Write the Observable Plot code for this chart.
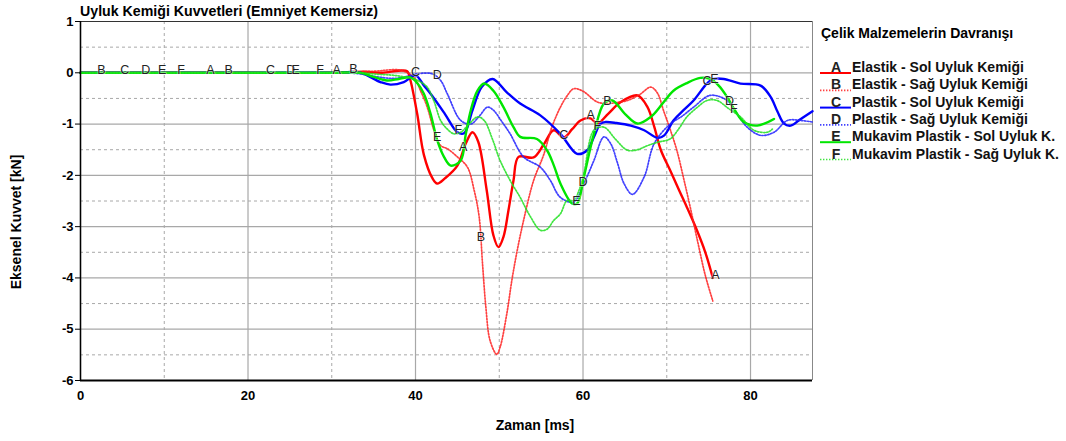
<!DOCTYPE html>
<html><head><meta charset="utf-8">
<script src="https://cdn.jsdelivr.net/npm/d3@7"></script>
<script src="https://cdn.jsdelivr.net/npm/@observablehq/plot@0.6"></script>
<style>body{margin:0;background:#fff;} #chart{width:1066px;height:441px}</style>
</head><body><div id="chart"></div>
<script>
const chartTitle = "Uyluk Kemiği Kuvvetleri (Emniyet Kemersiz)";
const legendTitle = "Çelik Malzemelerin Davranışı";
const xLabel = "Zaman [ms]";
const yLabel = "Eksenel Kuvvet [kN]";
const xTicks = [0, 20, 40, 60, 80];
const xMinorTicks = [10, 30, 50, 70];
const yTicks = [1, 0, -1, -2, -3, -4, -5, -6];
const yMinorTicks = [0.5, -0.5, -1.5, -2.5, -3.5, -4.5, -5.5];

const letters = ["A", "B", "C", "D", "E", "F"];
const names = ["Elastik - Sol Uyluk Kemiği", "Elastik - Sağ Uyluk Kemiği", "Plastik - Sol Uyluk Kemiği", "Plastik - Sağ Uyluk Kemiği", "Mukavim Plastik - Sol Uyluk K.", "Mukavim Plastik - Sağ Uyluk K."];

// A: Elastik - Sol
const tA = [0, 10, 20, 30, 34, 36, 38, 39, 39.4, 40.2, 41, 42, 42.6, 43.5, 45, 46, 46.8, 47.5, 48.5, 49.3, 49.9, 50.5, 51.1, 51.7, 52.3, 54.1, 55.3, 56.5, 57.7, 58.7, 59.7, 60.9, 61.7, 63, 64.5, 66.5, 67.7, 68.5, 69.3, 70.4, 71.5, 72.4, 73.6, 74.6, 75.5];
const vA = [0, 0, 0, 0, 0.02, 0, 0.04, 0.03, -0.15, -0.8, -1.6, -2.05, -2.16, -2.06, -1.81, -1.38, -1.16, -1.35, -2.29, -3.17, -3.4, -3.2, -2.68, -2.1, -1.64, -1.65, -1.4, -1.12, -1.26, -1.1, -0.93, -0.89, -0.99, -0.8, -0.57, -0.44, -0.67, -1.05, -1.51, -1.9, -2.3, -2.62, -3.07, -3.5, -4.0];
// B: Elastik - Sağ
const tB = [0, 10, 20, 30, 35, 38.2, 39.8, 40.6, 41.4, 42.2, 43, 43.8, 45, 46.2, 47, 47.6, 48, 48.4, 48.9, 49.7, 50.1, 50.9, 51.5, 52.1, 52.9, 54.1, 55.3, 56.3, 57.3, 58.1, 58.9, 60, 61.7, 62.9, 64, 65.3, 66.8, 68.1, 68.9, 69.6, 70.4, 71.2, 72, 72.8, 73.7, 74.6, 75.5];
const vB = [0, 0, 0, 0, 0.03, 0.05, -0.09, -0.35, -0.67, -1.12, -1.42, -1.48, -1.64, -1.84, -2.29, -2.81, -3.72, -4.57, -5.22, -5.49, -5.35, -4.7, -4.05, -3.5, -2.88, -2.1, -1.6, -1.05, -0.67, -0.45, -0.31, -0.36, -0.57, -0.6, -0.58, -0.54, -0.42, -0.28, -0.4, -0.73, -1.1, -1.51, -2.05, -2.62, -3.3, -3.95, -4.45];
// C: Plastik - Sol
const tC = [0, 10, 20, 30, 33.4, 35.8, 37, 38.6, 40, 41, 41.8, 43.5, 45, 45.8, 46.8, 47.9, 49.2, 50.9, 52.5, 54.9, 57.3, 59.3, 60.5, 61.3, 62.1, 62.7, 64, 65.7, 67.3, 68.9, 69.7, 70.8, 72, 73.2, 74.8, 75.6, 76.8, 78.8, 81.2, 82.4, 83.2, 84, 84.8, 86, 87.4];
const vC = [0, 0, 0, 0, 0, -0.18, -0.23, -0.18, -0.05, -0.25, -0.41, -0.8, -1.16, -1.18, -0.73, -0.28, -0.12, -0.38, -0.6, -0.83, -1.19, -1.58, -1.51, -1.25, -0.99, -0.96, -0.98, -1.03, -1.12, -1.27, -1.22, -0.93, -0.73, -0.54, -0.21, -0.12, -0.12, -0.21, -0.25, -0.47, -0.75, -0.99, -1.03, -0.9, -0.75];
// D: Plastik - Sağ
const tD = [0, 10, 20, 30, 33.4, 35.5, 37.4, 39, 40.2, 42, 43, 43.8, 45.4, 46.6, 47.6, 48.6, 49.3, 50.3, 51.3, 52.9, 54.9, 56.1, 57.3, 58.9, 60.1, 61.3, 62.5, 63.3, 64.1, 64.9, 65.9, 67.3, 68.5, 70.4, 71.8, 73.2, 75.2, 77.2, 78.4, 79.6, 81.2, 82.8, 84.4, 86, 87.4];
const vD = [0, 0, 0, 0, -0.02, -0.08, -0.11, -0.07, -0.02, -0.02, -0.15, -0.41, -0.93, -1.0, -0.85, -0.67, -0.73, -0.95, -1.19, -1.64, -1.84, -2.1, -2.43, -2.52, -2.16, -1.71, -1.25, -1.38, -1.75, -2.16, -2.37, -2.03, -1.38, -1.0, -0.85, -0.67, -0.44, -0.54, -0.8, -1.06, -1.22, -1.16, -0.93, -0.93, -0.96];
// E: Mukavim Plastik - Sol
const tE = [0, 10, 20, 30, 33.4, 35, 36.6, 38, 39.4, 40.2, 41, 41.8, 42.6, 43.4, 44.2, 45.4, 46, 46.6, 47.4, 48.2, 49.3, 50.5, 51.7, 52.5, 54.5, 55.7, 56.5, 57.3, 58.7, 59.3, 60.1, 61.3, 62.5, 63.5, 65, 66.5, 68.1, 69.5, 70.8, 72.4, 74, 75.2, 76.2, 77.2, 78.2, 79.2, 80.8, 82.8];
const vE = [0, 0, 0, 0, 0, -0.08, -0.15, -0.12, -0.09, -0.2, -0.41, -0.8, -1.32, -1.64, -1.81, -1.71, -1.2, -0.73, -0.35, -0.21, -0.35, -0.67, -1.06, -1.25, -1.29, -1.51, -1.8, -2.16, -2.55, -2.55, -2.03, -1.19, -0.6, -0.54, -0.8, -0.99, -0.86, -0.6, -0.35, -0.2, -0.1, -0.12, -0.25, -0.47, -0.75, -0.96, -1.03, -0.9];
// F: Mukavim Plastik - Sağ
const tF = [0, 10, 20, 30, 33.4, 35.5, 37.4, 39.8, 40.6, 41.4, 42.2, 43, 43.8, 44.6, 45.4, 46.4, 47.4, 48.2, 49.2, 50.1, 51.3, 52.5, 53.7, 54.9, 55.7, 56.5, 57.3, 58.1, 58.9, 59.5, 60.1, 61.3, 62.5, 63.9, 65.3, 66.5, 67.7, 69, 70.4, 71.4, 72.4, 73.6, 74.8, 76, 77.4, 78.8, 80.4, 82, 82.6];
const vF = [0, 0, 0, 0, 0, -0.03, -0.05, -0.12, -0.18, -0.28, -0.55, -0.93, -1.1, -1.19, -1.16, -1.0, -0.86, -0.93, -1.3, -1.71, -2.1, -2.43, -2.8, -3.07, -3.05, -2.88, -2.75, -2.49, -2.49, -2.3, -1.97, -1.12, -1.06, -1.3, -1.51, -1.5, -1.42, -1.35, -1.29, -1.1, -0.86, -0.68, -0.54, -0.54, -0.7, -0.86, -1.12, -1.16, -1.1];

// positions (ms) of the letter tags along each curve
const labelTimes = [
  [15.5, 30.6, 45.7, 60.9, 75.8],
  [2.5, 17.7, 32.6, 47.8, 62.9],
  [5.3, 22.7, 40, 57.7, 74.8],
  [7.8, 25.1, 42.6, 60, 77.5],
  [9.75, 25.7, 42.6, 59.2, 75.7],
  [12, 28.6, 45.1, 61.7, 78]
];

const colors = ["#ff0000", "#ff2020", "#0000ff", "#2020ff", "#00e600", "#20e020"];
const solid = [true, false, true, false, true, false];
const T = [tA, tB, tC, tD, tE, tF];
const V = [vA, vB, vC, vD, vE, vF];

function interp(ts, vs, t) {
  for (let i = 1; i < ts.length; i++) {
    if (t <= ts[i]) {
      const f = (t - ts[i-1]) / (ts[i] - ts[i-1]);
      return vs[i-1] + f * (vs[i] - vs[i-1]);
    }
  }
  return vs[vs.length - 1];
}

const xMax = 87.4;
const lineMarks = [];
const labelData = [];
letters.forEach((L, i) => {
  const data = T[i].map((t, j) => ({t, v: V[i][j]}));
  lineMarks.push(Plot.line(data, {
    x: "t", y: "v", curve: "catmull-rom",
    stroke: colors[i],
    strokeWidth: solid[i] ? 2.4 : 1.7,
    strokeOpacity: solid[i] ? 1 : 0.85,
    strokeDasharray: solid[i] ? null : "1.4,1.6"
  }));
  labelTimes[i].forEach(t => labelData.push({t, v: interp(T[i], V[i], t), L}));
});

const font = "'Liberation Sans', Arial, sans-serif";
const grid = "#a8a8a8";

const plot = Plot.plot({
  width: 1066, height: 441,
  marginLeft: 80, marginRight: 254, marginTop: 21, marginBottom: 61,
  style: {fontFamily: font, fontSize: "13px", background: "#fff"},
  x: {domain: [0, xMax]},
  y: {domain: [-6, 1]},
  marks: [
    Plot.ruleY(yMinorTicks, {stroke: grid, strokeDasharray: "3,3"}),
    Plot.ruleX(xMinorTicks, {stroke: grid, strokeDasharray: "3,3"}),
    Plot.ruleY(yTicks, {stroke: grid, strokeWidth: 1.2}),
    Plot.ruleX(xTicks, {stroke: grid, strokeWidth: 1.2}),
    Plot.ruleX([xMax], {stroke: "#888"}),
    Plot.ruleY([1], {stroke: "#333", strokeWidth: 1.2}),
    ...lineMarks,
    Plot.text(labelData, {x: "t", y: "v", text: "L", lineAnchor: "bottom", dy: 1, fill: "#222", fontSize: 12.5, stroke: "white", strokeOpacity: 0.5, strokeWidth: 1.5}),
    Plot.ruleX([0], {stroke: "#000", strokeWidth: 1.5}),
    Plot.ruleY([-6], {stroke: "#000", strokeWidth: 2}),
    Plot.axisY({ticks: yTicks, tickSize: 5, tickPadding: 2, tickFormat: d => String(d), fontWeight: "bold", fontSize: 13, label: null}),
    Plot.axisX({ticks: xTicks, tickSize: 0, tickPadding: 10, tickFormat: d => String(d), fontWeight: "bold", fontSize: 13, label: null})
  ]
});
document.getElementById("chart").appendChild(plot);

const svg = d3.select(plot);
svg.append("text").attr("x", 80).attr("y", 16).attr("text-anchor", "start").attr("font-family", font).attr("font-weight", "bold").attr("font-size", 14.2).attr("fill", "#000").text(chartTitle);
svg.append("text").attr("x", 535).attr("y", 430).attr("text-anchor", "middle").attr("font-family", font).attr("font-weight", "bold").attr("font-size", 14).text(xLabel);
svg.append("text").attr("transform", "translate(21,222) rotate(-90)").attr("text-anchor", "middle").attr("font-family", font).attr("font-weight", "bold").attr("font-size", 14).text(yLabel);

const lg = svg.append("g").attr("font-family", font);
lg.append("text").attr("x", 821).attr("y", 38).attr("text-anchor", "start").attr("font-weight", "bold").attr("font-size", 14).text(legendTitle);
letters.forEach((L, i) => {
  const y = 72 + i * 17.3;
  lg.append("line").attr("x1", 820).attr("x2", 851).attr("y1", y + 1).attr("y2", y + 1)
    .attr("stroke", colors[i]).attr("stroke-width", solid[i] ? 2 : 1.7)
    .attr("stroke-opacity", solid[i] ? 1 : 0.85)
    .attr("stroke-dasharray", solid[i] ? null : "1.4,1.6");
  lg.append("text").attr("x", 836).attr("y", y).attr("text-anchor", "middle").attr("font-size", 14).attr("font-weight", "bold").attr("fill", "#222").text(L);
  lg.append("text").attr("x", 852).attr("y", y).attr("text-anchor", "start").attr("font-size", 14).attr("font-weight", "bold").attr("fill", "#111").text(names[i]);
});
</script>
</body></html>
